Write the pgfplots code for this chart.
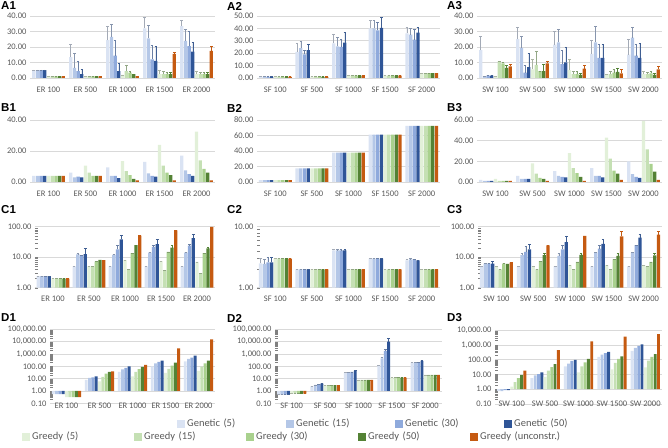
\documentclass[border=0pt]{standalone}
\usepackage{fontspec}
\setmainfont{Carlito}
\newfontfamily\hfont{Liberation Sans}
\usepackage{pgfplots}
\usepackage{pgfplotstable}
\pgfplotsset{compat=1.18}

\definecolor{ga}{HTML}{DAE3F3}
\definecolor{gb}{HTML}{B4C7E7}
\definecolor{gc}{HTML}{8FAADC}
\definecolor{gd}{HTML}{2F5597}
\definecolor{ra}{HTML}{E2F0D9}
\definecolor{rb}{HTML}{C5E0B4}
\definecolor{rc}{HTML}{A9D18E}
\definecolor{rd}{HTML}{548235}
\definecolor{ru}{HTML}{C55A11}
\definecolor{gridc}{HTML}{D9D9D9}
\definecolor{tickc}{HTML}{595959}

% columns: genetic 5/15/30/50, greedy 5/15/30/50/unconstr., then upper errors
\pgfplotstableread{
x g1 g2 g3 g4 r1 r2 r3 r4 r5 eg1 eg2 eg3 eg4 er1 er2 er3 er4 er5
0 5 5 5 5 1 1 1 1 1 0.2 0.2 0.2 0.2 0 0 0 0 0
1 13.5 6.5 4.5 2.5 1 1 1 1 1 8.5 9.5 6 3 0 0 0 0 0
2 24.5 26.5 14.5 4.5 2 4.5 3.5 2.5 1.2 9 8 9.5 5 0 3.5 0.5 0 0
3 32 25.5 12 11 2.5 2.5 2.5 2.5 15.5 7 8.5 9 9.5 2.5 1.5 1 1 1
4 33.5 24 20.5 17 2.5 2.5 2.5 2.5 17.5 3.5 7.5 9.5 6 1.5 1 1 1 3
}\tAone
\pgfplotstableread{
x g1 g2 g3 g4 r1 r2 r3 r4 r5 eg1 eg2 eg3 eg4 er1 er2 er3 er4 er5
0 1 1 1 1 1 1 1 1 1 0 0 0 0 0 0 0 0 0
1 21 24 19 22.5 1 1 1 1 1 7 5.5 3.5 5 0 0 0 0 0
2 28 25.5 25 28.5 2 2 2 2 2 7.5 7.5 6.5 8 0 0 0 0 0
3 40 40 38.5 40.5 2 2 2 2 2 6.5 6.5 6.5 8.5 0 0 0 0 0
4 36 35 31 36.5 4 4 4 4 4 5 5 8 4.5 0 0 0 0 0
}\tAtwo
\pgfplotstableread{
x g1 g2 g3 g4 r1 r2 r3 r4 r5 eg1 eg2 eg3 eg4 er1 er2 er3 er4 er5
0 18 1 1.5 1.5 1 10.5 9.5 6.5 7.5 9 0 0 0 0 0 0.5 1.5 1.5
1 25 19.5 3.5 7 5.5 8.5 4.5 4.5 9.5 8 7.5 4.5 9 6.5 8.5 0 4.5 1.5
2 21.5 23 9 10 5 2.5 2.5 2 6 8.5 8.5 9 10 7 1.5 2 1 2
3 15.5 23 13 13 2.5 2.5 3.5 4 3 8.5 10.5 9 8.5 0 1.5 2 2.5 2.5
4 15 26 14.5 13 2.5 2.5 3 2 5.5 10 6.5 7 9.5 1.5 1 1 1 2
}\tAthree
\pgfplotstableread{
x g1 g2 g3 g4 r1 r2 r3 r4 r5
0 4 4 4 4 4 4 4 4 4
1 6 3 3.5 3 10.5 6 4 4 4
2 9.5 4 4 2.5 13.5 7 4.5 2 1
3 13 5.5 4 3.5 24 10.5 6 4.5 1
4 17 7.5 5 4 32.5 14 8.5 6 1
}\tBone
\pgfplotstableread{
x g1 g2 g3 g4 r1 r2 r3 r4 r5
0 2.5 2.5 2.5 2.5 2.5 2.5 2.5 2.5 2.5
1 17.5 17.5 17.5 17.5 17.5 17.5 17.5 17.5 17.5
2 38 38 38 38 38 38 38 38 38
3 61 61 61 61 61 61 61 61 61
4 72.5 72.5 72.5 72.5 72.5 72.5 72.5 72.5 72.5
}\tBtwo
\pgfplotstableread{
x g1 g2 g3 g4 r1 r2 r3 r4 r5
0 2 1 1 1 3 1 1 1 1
1 6 3 3 3 18 8 4 3 1
2 10.5 6 5 4.5 28 13.5 8.5 5 1
3 13.5 6 6 4.5 43 22.5 11 8 2
4 20 7.5 5 4 59 31.5 17.5 10 2
}\tBthree
\pgfplotstableread{
x g1 g2 g3 g4 r1 r2 r3 r4 r5 eg1 eg2 eg3 eg4 er1 er2 er3 er4 er5
0 2.4 2.4 2.4 2.4 2 2 2 2 2 0 0 0 0 0 0 0 0 0
1 5 12.4 11.2 12.5 5 5 7.1 8.1 8 0 0.6 0 7 0 0 0 0 0
2 5 12 18 38.5 8 4 13.7 25 50.5 0 0 6.5 14.5 0 0 0 0 0
3 5 14 22 27 7.5 3.8 15 20.5 76 0 0 3 11 0 0 0 3.5 0
4 5 14 24 42.5 7 3 13.7 19.5 99 0 0 2 12 0 0 0 1 0
}\tCone
\pgfplotstableread{
x g1 g2 g3 g4 r1 r2 r3 r4 r5 eg1 eg2 eg3 eg4 er1 er2 er3 er4 er5
0 2.5 2.45 2.6 2.6 3 3 3 3 3 0.5 0.45 0.5 0.5 0 0 0 0 0
1 2 2 2 2 2 2 2 2 2 0 0 0 0 0 0 0 0 0
2 4.1 4.1 4.1 4.1 2 2 2 2 2 0.2 0.1 0.1 0.1 0 0 0 0 0
3 3 3 3 3 2 2 2 2 2 0 0 0 0 0 0 0 0 0
4 2.8 2.9 2.9 2.8 2 2 2 2 2 0.1 0.1 0 0 0 0 0 0 0
}\tCtwo
\pgfplotstableread{
x g1 g2 g3 g4 r1 r2 r3 r4 r5 eg1 eg2 eg3 eg4 er1 er2 er3 er4 er5
0 5 6.1 6.1 6.1 5 4 6.1 6 6.6 0 0 0 1 0 0 0 0 0.3
1 5 11.8 15 18 5 4 7.5 11.8 24.5 0 1.2 7.7 8 0 0 0 1.2 0
2 5 11 18 31.5 5.5 4 7 12 50 0 2 7 18.5 0 0 0 1.5 0
3 5 14 19 27.5 5.5 4 8.5 11 48 0 0 6 12 0 0 0 2 21
4 5 14 25 43.5 5.5 5 7 11.5 55 0 0 0 12.5 0 0 0 1.5 15
}\tCthree
\pgfplotstableread{
x g1 g2 g3 g4 r1 r2 r3 r4 r5
0 0.55 0.55 0.55 0.55 0.31 0.31 0.31 0.31 0.31
1 7.8 11.3 12.8 15.5 6.1 13.6 25 35 39
2 35 57 73 100 15.5 35 58 88 128
3 100 175 225 290 29 61 114 198 2900
4 254 392 505 730 42 94 175 290 15500
}\tDone
\pgfplotstableread{
x g1 g2 g3 g4 r1 r2 r3 r4 r5 eg1 eg2 eg3 eg4 er1 er2 er3 er4 er5
0 0.5 0.5 0.5 0.5 0.6 0.6 0.6 0.6 0.6 0 0 0 0 0 0 0 0 0
1 2.4 3.1 3.2 3.9 3 3 3 3 3 0 0 0 0 0 0 0 0 0
2 31 32 35 42 7.8 7.8 7.8 7.8 7.8 0 0 0 6 0 0 0 0 0
3 114 445 1750 10000 12 12 12 12 12 0 100 750 7500 0 0 0 0 0
4 198 200 220 270 20 20 20 20 20 0 0 0 40 0 0 0 0 0
}\tDtwo
\pgfplotstableread{
x g1 g2 g3 g4 r1 r2 r3 r4 r5
0 0.73 0.73 0.85 0.85 1.5 3 5.6 9 17.8
1 5.5 8.5 10.5 13.6 6.9 17.8 31.6 50 435
2 35 53 81 95 13.6 35 66 110 1700
3 150 218 270 332 22 59 110 168 3500
4 390 625 850 1050 30 86 150 230 5300
}\tDthree

\newcommand\bars[1]{%
  \addplot[fill=ga,draw=none] table[x=x,y=g1]{#1};
  \addplot[fill=gb,draw=none] table[x=x,y=g2]{#1};
  \addplot[fill=gc,draw=none] table[x=x,y=g3]{#1};
  \addplot[fill=gd,draw=none] table[x=x,y=g4]{#1};
  \addplot[fill=ra,draw=none] table[x=x,y=r1]{#1};
  \addplot[fill=rb,draw=none] table[x=x,y=r2]{#1};
  \addplot[fill=rc,draw=none] table[x=x,y=r3]{#1};
  \addplot[fill=rd,draw=none] table[x=x,y=r4]{#1};
  \addplot[fill=ru,draw=none] table[x=x,y=r5]{#1};
}
\pgfplotsset{eb/.style={error bars/.cd, y dir=plus, y explicit,
  error bar style={line width=0.6pt, #1},
  error mark options={rotate=90, mark size=1.3pt, line width=0.6pt, #1}}}
\newcommand\barsE[1]{%
  \addplot[fill=ga,draw=none,eb=ga!75!black] table[x=x,y=g1,y error=eg1]{#1};
  \addplot[fill=gb,draw=none,eb=gb!75!black] table[x=x,y=g2,y error=eg2]{#1};
  \addplot[fill=gc,draw=none,eb=gc!75!black] table[x=x,y=g3,y error=eg3]{#1};
  \addplot[fill=gd,draw=none,eb=gd!80!gray] table[x=x,y=g4,y error=eg4]{#1};
  \addplot[fill=ra,draw=none,eb=ra!75!black] table[x=x,y=r1,y error=er1]{#1};
  \addplot[fill=rb,draw=none,eb=rb!75!black] table[x=x,y=r2,y error=er2]{#1};
  \addplot[fill=rc,draw=none,eb=rc!75!black] table[x=x,y=r3,y error=er3]{#1};
  \addplot[fill=rd,draw=none,eb=rd] table[x=x,y=r4,y error=er4]{#1};
  \addplot[fill=ru,draw=none,eb=ru] table[x=x,y=r5,y error=er5]{#1};
}

\pgfplotsset{
  panel/.style={
    scale only axis, anchor=south west,
    xmin=-0.5, xmax=4.5, xtick={0,...,4},
    ybar=0.4pt, bar width=3.3pt,
    ymajorgrids, grid style={gridc, line width=0.6pt},
    axis x line*=bottom, axis y line*=left,
    x axis line style={gridc, line width=0.6pt},
    y axis line style={draw=none},
    major tick length=0pt,
    tick label style={font=\fontsize{8.5}{10}\selectfont, text=tickc},
    xticklabel style={yshift=-5pt},
  },
  ER/.style={xticklabels={ER 100, ER 500, ER 1000, ER 1500, ER 2000}},
  SF/.style={xticklabels={SF 100, SF 500, SF 1000, SF 1500, SF 2000}},
  SW/.style={xticklabels={SW 100, SW 500, SW 1000, SW 1500, SW 2000}},
  logD/.style={bar width=2.9pt, height=74pt,
    xticklabel style={yshift=#1}},
  legbox/.style={anchor=south west, scale only axis,
    width=1pt, height=1pt, hide axis, xmin=0, xmax=1, ymin=0, ymax=1,
    legend image code/.code={\fill[draw=none,##1] (0pt,-4pt) rectangle (8pt,4pt);},
    legend style={at={(0,0.5)}, anchor=west, draw=none, fill=none,
      inner sep=0pt, font=\fontsize{10.5}{12}\selectfont, text=tickc,
      /tikz/every even column/.append style={text width=#1}}},
}
\newcommand\ptitle[2]{\node[anchor=west, inner sep=0pt, font=\hfont\bfseries\fontsize{11.5}{12}\selectfont] at #1 {#2};}

\begin{document}
\begin{tikzpicture}
\useasboundingbox (0,0) rectangle (668pt,447pt);

% ---- row A
\begin{axis}[panel, ER, at={(30pt,369pt)}, width=185pt, height=62pt,
  ymin=0, ymax=40, ytick={0,10,20,30,40},
  yticklabels={0.00,10.00,20.00,30.00,40.00}]
\barsE{\tAone}
\end{axis}
\begin{axis}[panel, SF, at={(257pt,369pt)}, width=183pt, height=62pt,
  ymin=0, ymax=50, ytick={0,10,20,30,40,50},
  yticklabels={0.00,10.00,20.00,30.00,40.00,50.00}]
\barsE{\tAtwo}
\end{axis}
\begin{axis}[panel, SW, at={(477pt,369pt)}, width=185pt, height=62pt,
  ymin=0, ymax=40, ytick={0,10,20,30,40},
  yticklabels={0.00,10.00,20.00,30.00,40.00}]
\barsE{\tAthree}
\end{axis}

% ---- row B
\begin{axis}[panel, ER, at={(30pt,265pt)}, width=185pt, height=62pt,
  ymin=0, ymax=40, ytick={0,20,40}, yticklabels={0.00,20.00,40.00}]
\bars{\tBone}
\end{axis}
\begin{axis}[panel, SF, at={(257pt,265pt)}, width=183pt, height=62pt,
  ymin=0, ymax=80, ytick={0,20,40,60,80},
  yticklabels={0.00,20.00,40.00,60.00,80.00}]
\bars{\tBtwo}
\end{axis}
\begin{axis}[panel, SW, at={(477pt,265pt)}, width=185pt, height=62pt,
  ymin=0, ymax=60, ytick={0,20,40,60},
  yticklabels={0.00,20.00,40.00,60.00}]
\bars{\tBthree}
\end{axis}

% ---- row C
\begin{axis}[panel, ER, ymode=log, at={(35pt,159.3pt)}, width=180pt, height=61pt,
  ymin=1, ymax=100, ytick={1,10,100},
  yticklabels={1.00,10.00,100.00}]
\barsE{\tCone}
\end{axis}
\begin{axis}[panel, SF, ymode=log, at={(257pt,159.3pt)}, width=183pt, height=61pt,
  ymin=1, ymax=10, ytick={1,10}, yticklabels={1.00,10.00}]
\barsE{\tCtwo}
\end{axis}
\begin{axis}[panel, SW, ymode=log, at={(478pt,159.3pt)}, width=184pt, height=61pt,
  ymin=1, ymax=100, ytick={1,10,100},
  yticklabels={1.00,10.00,100.00}]
\barsE{\tCthree}
\end{axis}

% ---- row D
\begin{axis}[panel, ER, ymode=log, logD=9.3pt, at={(50pt,43.7pt)}, width=165pt,
  ymin=0.1, ymax=100000, ytick={0.1,1,10,100,1000,10000,100000},
  yticklabels={0.10,1.00,10.00,100.00,{1,000.00},{10,000.00},{100,000.00}}]
\bars{\tDone}
\end{axis}
\begin{axis}[panel, SF, ymode=log, logD=9.3pt, at={(275pt,43.7pt)}, width=167pt,
  ymin=0.1, ymax=100000, ytick={0.1,1,10,100,1000,10000,100000},
  yticklabels={0.10,1.00,10.00,100.00,{1,000.00},{10,000.00},{100,000.00}}]
\barsE{\tDtwo}
\end{axis}
\begin{axis}[panel, SW, ymode=log, logD=11.8pt, at={(495pt,43pt)}, width=167pt,
  ymin=0.1, ymax=10000, ytick={0.1,1,10,100,1000,10000},
  yticklabels={0.10,1.00,10.00,100.00,{1,000.00},{10,000.00}}]
\bars{\tDthree}
\end{axis}

% ---- titles
\ptitle{(1pt,441pt)}{A1}
\ptitle{(227pt,441pt)}{A2}
\ptitle{(447pt,441pt)}{A3}
\ptitle{(1pt,339pt)}{B1}
\ptitle{(227pt,339pt)}{B2}
\ptitle{(447pt,339pt)}{B3}
\ptitle{(1pt,237pt)}{C1}
\ptitle{(227pt,237pt)}{C2}
\ptitle{(447pt,237pt)}{C3}
\ptitle{(1pt,129pt)}{D1}
\ptitle{(227pt,129pt)}{D2}
\ptitle{(447pt,129pt)}{D3}

% ---- legends
\begin{axis}[legbox=97pt, at={(177pt,23pt)}, legend columns=4]
\addlegendimage{fill=ga}\addlegendentry{Genetic (5)}
\addlegendimage{fill=gb}\addlegendentry{Genetic (15)}
\addlegendimage{fill=gc}\addlegendentry{Genetic (30)}
\addlegendimage{fill=gd}\addlegendentry{Genetic (50)}
\end{axis}
\begin{axis}[legbox=100pt, at={(22pt,10pt)}, legend columns=5]
\addlegendimage{fill=ra}\addlegendentry{Greedy (5)}
\addlegendimage{fill=rb}\addlegendentry{Greedy (15)}
\addlegendimage{fill=rc}\addlegendentry{Greedy (30)}
\addlegendimage{fill=rd}\addlegendentry{Greedy (50)}
\addlegendimage{fill=ru}\addlegendentry{Greedy (unconstr.)}
\end{axis}
\end{tikzpicture}
\end{document}
